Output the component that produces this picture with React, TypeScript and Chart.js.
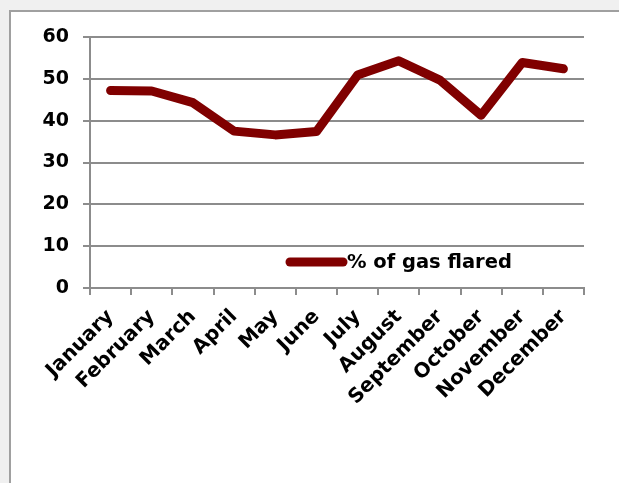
import React, { useEffect, useRef } from "react";
import { Chart, registerables } from "chart.js";

Chart.register(...registerables);

const months: string[] = [
  "January", "February", "March", "April", "May", "June",
  "July", "August", "September", "October", "November", "December",
];
const gasFlared: number[] = [47.2, 47.1, 44.3, 37.5, 36.6, 37.4, 50.9, 54.3, 49.7, 41.3, 53.9, 52.4];
const seriesLabel = "% of gas flared";
const yTicks: number[] = [0, 10, 20, 30, 40, 50, 60];

const FONT = "'DejaVu Sans', sans-serif";
const LINE_COLOR = "#800000";
const GRID_COLOR = "#8c8c8c";

const legendPlugin = {
  id: "innerLegend",
  afterDraw(chart: any) {
    const { ctx, chartArea } = chart;
    const y = chartArea.bottom - 26;
    const x0 = chartArea.left + 200;
    const x1 = x0 + 53;
    ctx.save();
    ctx.strokeStyle = LINE_COLOR;
    ctx.lineWidth = 9;
    ctx.lineCap = "round";
    ctx.beginPath();
    ctx.moveTo(x0, y);
    ctx.lineTo(x1, y);
    ctx.stroke();
    ctx.fillStyle = "#000";
    ctx.font = `bold 19.5px ${FONT}`;
    ctx.textBaseline = "middle";
    ctx.textAlign = "left";
    ctx.fillText(seriesLabel, x1 + 4, y + 1);
    ctx.restore();
  },
};

export default function App() {
  const canvasRef = useRef<HTMLCanvasElement | null>(null);

  useEffect(() => {
    if (!canvasRef.current) return;
    const chart = new Chart(canvasRef.current, {
      type: "line",
      data: {
        labels: months,
        datasets: [
          {
            label: seriesLabel,
            data: gasFlared,
            borderColor: LINE_COLOR,
            backgroundColor: LINE_COLOR,
            borderWidth: 9,
            pointRadius: 0,
            pointHoverRadius: 0,
            tension: 0,
            borderCapStyle: "round",
            borderJoinStyle: "round",
          },
        ],
      },
      options: {
        responsive: false,
        animation: false,
        layout: { padding: { top: 37, right: 35, left: 0, bottom: 0 } },
        plugins: {
          legend: { display: false },
          tooltip: { enabled: false },
        },
        scales: {
          x: {
            type: "category",
            offset: true,
            grid: {
              display: true,
              drawOnChartArea: false,
              drawTicks: true,
              tickLength: 7,
              color: GRID_COLOR,
              lineWidth: 2,
              offset: true,
            },
            border: { display: true, color: GRID_COLOR, width: 2 },
            ticks: {
              minRotation: 45,
              maxRotation: 45,
              autoSkip: false,
              padding: 10,
              color: "#000",
              font: { family: FONT, size: 20, weight: "bold" },
            },
            afterFit(scale: any) {
              scale.height = 195;
            },
          },
          y: {
            min: 0,
            max: 60,
            afterBuildTicks(scale: any) {
              scale.ticks = yTicks.map((v) => ({ value: v }));
            },
            grid: {
              color: GRID_COLOR,
              lineWidth: 2,
              tickLength: 7,
              drawTicks: true,
            },
            border: { display: true, color: GRID_COLOR, width: 2 },
            ticks: {
              padding: 14,
              color: "#000",
              font: { family: FONT, size: 19, weight: "bold" },
            },
            afterFit(scale: any) {
              scale.width = 90;
            },
          },
        },
      },
      plugins: [legendPlugin],
    } as any);
    return () => chart.destroy();
  }, []);

  return (
    <div
      style={{
        position: "fixed",
        left: 0,
        top: 0,
        width: 619,
        height: 483,
        background: "#f0f0f0",
        overflow: "hidden",
      }}
    >
      <div
        style={{
          position: "absolute",
          left: 9,
          top: 10,
          width: 700,
          height: 600,
          background: "#fff",
          borderLeft: "2px solid #a0a0a0",
          borderTop: "2px solid #a0a0a0",
        }}
      />
      <canvas
        ref={canvasRef}
        width={619}
        height={483}
        style={{ position: "absolute", left: 0, top: 0 }}
      />
    </div>
  );
}
